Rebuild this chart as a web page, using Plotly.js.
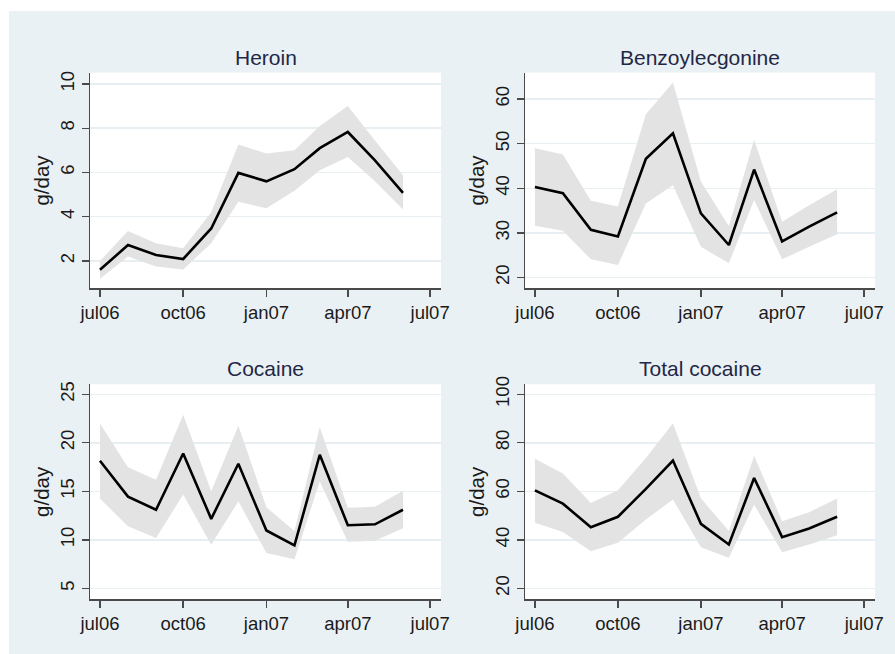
<!DOCTYPE html>
<html>
<head>
<meta charset="utf-8">
<script src="https://cdn.plot.ly/plotly-3.0.1.min.js"></script>
<style>html,body{margin:0;padding:0;background:#fff;}#chart{width:895px;height:654px;}</style>
</head>
<body>
<div id="chart"></div>
<script>
// Monthly observation dates
const months = ['2006-07-01','2006-08-01','2006-09-01','2006-10-01','2006-11-01','2006-12-01',
                '2007-01-01','2007-02-01','2007-03-01','2007-04-01','2007-05-01','2007-06-01'];

// Heroin (g/day)
const heroin   = [1.60, 2.72, 2.27, 2.09, 3.47, 5.98, 5.60, 6.15, 7.10, 7.83, 6.55, 5.08];
const heroinLo = [1.20, 2.20, 1.75, 1.62, 2.80, 4.68, 4.38, 5.17, 6.10, 6.70, 5.60, 4.33];
const heroinHi = [2.00, 3.35, 2.80, 2.57, 4.20, 7.26, 6.86, 7.00, 8.10, 9.00, 7.45, 5.88];

// Benzoylecgonine (g/day)
const benzo   = [40.3, 38.9, 30.7, 29.2, 46.6, 52.3, 34.4, 27.3, 44.2, 28.1, 31.4, 34.6];
const benzoLo = [31.6, 30.5, 24.1, 22.8, 36.6, 40.7, 26.9, 23.2, 37.4, 24.1, 26.9, 29.7];
const benzoHi = [49.0, 47.6, 37.2, 35.9, 56.6, 63.7, 41.5, 31.5, 50.9, 32.5, 36.2, 39.8];

// Cocaine (g/day)
const cocaine   = [18.15, 14.45, 13.10, 18.90, 12.16, 17.84, 10.96, 9.42, 18.77, 11.50, 11.60, 13.10];
const cocaineLo = [14.25, 11.40, 10.20, 14.66,  9.50, 13.97,  8.63, 8.00, 16.00,  9.80,  9.90, 11.20];
const cocaineHi = [21.99, 17.47, 16.20, 22.90, 15.00, 21.75, 13.36, 10.90, 21.60, 13.30, 13.40, 15.05];

// Total cocaine (g/day)
const totalCoc   = [60.4, 54.9, 45.2, 49.5, 61.0, 72.7, 46.6, 38.1, 65.5, 41.1, 44.7, 49.5];
const totalCocLo = [47.0, 43.2, 35.3, 38.8, 48.4, 56.6, 37.0, 32.6, 54.5, 34.9, 38.1, 41.9];
const totalCocHi = [73.4, 67.3, 55.2, 60.4, 73.7, 88.1, 57.1, 43.6, 74.7, 47.7, 51.4, 57.0];

// Axis ticks
const xTickVals = ['2006-07-01','2006-10-01','2007-01-01','2007-04-01','2007-07-01'];
const xTickText = ['jul06','oct06','jan07','apr07','jul07'];
const heroinTicks = [2, 4, 6, 8, 10];
const benzoTicks = [20, 30, 40, 50, 60];
const cocaineTicks = [5, 10, 15, 20, 25];
const totalCocTicks = [20, 40, 60, 80, 100];

const panelTitles = ['Heroin', 'Benzoylecgonine', 'Cocaine', 'Total cocaine'];

const FONT = 'Liberation Sans, Arial, Helvetica, sans-serif';
const BAND = '#e3e3e3';
const BG = '#eaf1f4';
const GRID = '#e8eff3';
const AXIS = '#4a4a4a';

const panels = [
  {mid: heroin, lo: heroinLo, hi: heroinHi, ticks: heroinTicks, range: [0.765, 10.51], xa: 'x', ya: 'y'},
  {mid: benzo, lo: benzoLo, hi: benzoHi, ticks: benzoTicks, range: [17.6, 65.9], xa: 'x2', ya: 'y2'},
  {mid: cocaine, lo: cocaineLo, hi: cocaineHi, ticks: cocaineTicks, range: [3.87, 26.03], xa: 'x3', ya: 'y3'},
  {mid: totalCoc, lo: totalCocLo, hi: totalCocHi, ticks: totalCocTicks, range: [15.5, 104.1], xa: 'x4', ya: 'y4'}
];

const traces = [];
panels.forEach(p => {
  traces.push({x: months, y: p.lo, xaxis: p.xa, yaxis: p.ya, type: 'scatter', mode: 'lines',
               line: {width: 0, color: BAND}, hoverinfo: 'skip', showlegend: false});
  traces.push({x: months, y: p.hi, xaxis: p.xa, yaxis: p.ya, type: 'scatter', mode: 'lines',
               fill: 'tonexty', fillcolor: BAND, line: {width: 0, color: BAND}, hoverinfo: 'skip', showlegend: false});
  traces.push({x: months, y: p.mid, xaxis: p.xa, yaxis: p.ya, type: 'scatter', mode: 'lines',
               line: {width: 2.6, color: '#000000'}, showlegend: false});
});

const W = 895, H = 654;
const colsX = [[90 / W, 441 / W], [525 / W, 875 / W]];
const rowsY = [[1 - 288.3 / H, 1 - 72.7 / H], [1 - 599.3 / H, 1 - 384.3 / H]];

function xaxisDef(anchor, dom) {
  return {
    domain: dom, anchor: anchor, type: 'date',
    range: ['2006-06-20', '2007-07-13'],
    tickmode: 'array', tickvals: xTickVals, ticktext: xTickText,
    ticks: 'outside', ticklen: 7, tickwidth: 1.4, tickcolor: AXIS,
    showline: true, linecolor: AXIS, linewidth: 1.5,
    showgrid: false, zeroline: false,
    tickfont: {family: FONT, size: 18.5, color: '#1a1a1a'}
  };
}
function yaxisDef(anchor, dom, p) {
  return {
    domain: dom, anchor: anchor, range: p.range,
    tickmode: 'array', tickvals: p.ticks,
    tickangle: -90,
    ticks: 'outside', ticklen: 7, tickwidth: 1.4, tickcolor: AXIS,
    showline: true, linecolor: AXIS, linewidth: 1.5,
    showgrid: true, gridcolor: GRID, gridwidth: 1.5, zeroline: false,
    tickfont: {family: FONT, size: 18.5, color: '#1a1a1a'},
    title: {text: 'g/day', font: {family: FONT, size: 20.5, color: '#1a1a1a'}, standoff: 2}
  };
}

const layout = {
  width: W, height: H,
  margin: {l: 0, r: 0, t: 0, b: 0, pad: 0},
  paper_bgcolor: BG, plot_bgcolor: '#ffffff',
  showlegend: false,
  xaxis: xaxisDef('y', colsX[0]),
  yaxis: yaxisDef('x', rowsY[0], panels[0]),
  xaxis2: xaxisDef('y2', colsX[1]),
  yaxis2: yaxisDef('x2', rowsY[0], panels[1]),
  xaxis3: xaxisDef('y3', colsX[0]),
  yaxis3: yaxisDef('x3', rowsY[1], panels[2]),
  xaxis4: xaxisDef('y4', colsX[1]),
  yaxis4: yaxisDef('x4', rowsY[1], panels[3]),
  shapes: [
    {type: 'rect', xref: 'paper', yref: 'paper', x0: 0, x1: 1, y0: 1 - 11 / H, y1: 1,
     fillcolor: '#ffffff', line: {width: 0}, layer: 'below'},
    {type: 'rect', xref: 'paper', yref: 'paper', x0: 0, x1: 9 / W, y0: 0, y1: 1,
     fillcolor: '#ffffff', line: {width: 0}, layer: 'below'}
  ],
  annotations: panelTitles.map((t, i) => ({
    text: t, showarrow: false, xref: 'paper', yref: 'paper',
    x: (colsX[i % 2][0] + colsX[i % 2][1]) / 2,
    y: i < 2 ? 1 - 58 / H : 1 - 368 / H,
    xanchor: 'center', yanchor: 'middle',
    font: {family: FONT, size: 21, color: '#1f2846'}
  }))
};

Plotly.newPlot('chart', traces, layout, {staticPlot: true, displayModeBar: false});
</script>
</body>
</html>
